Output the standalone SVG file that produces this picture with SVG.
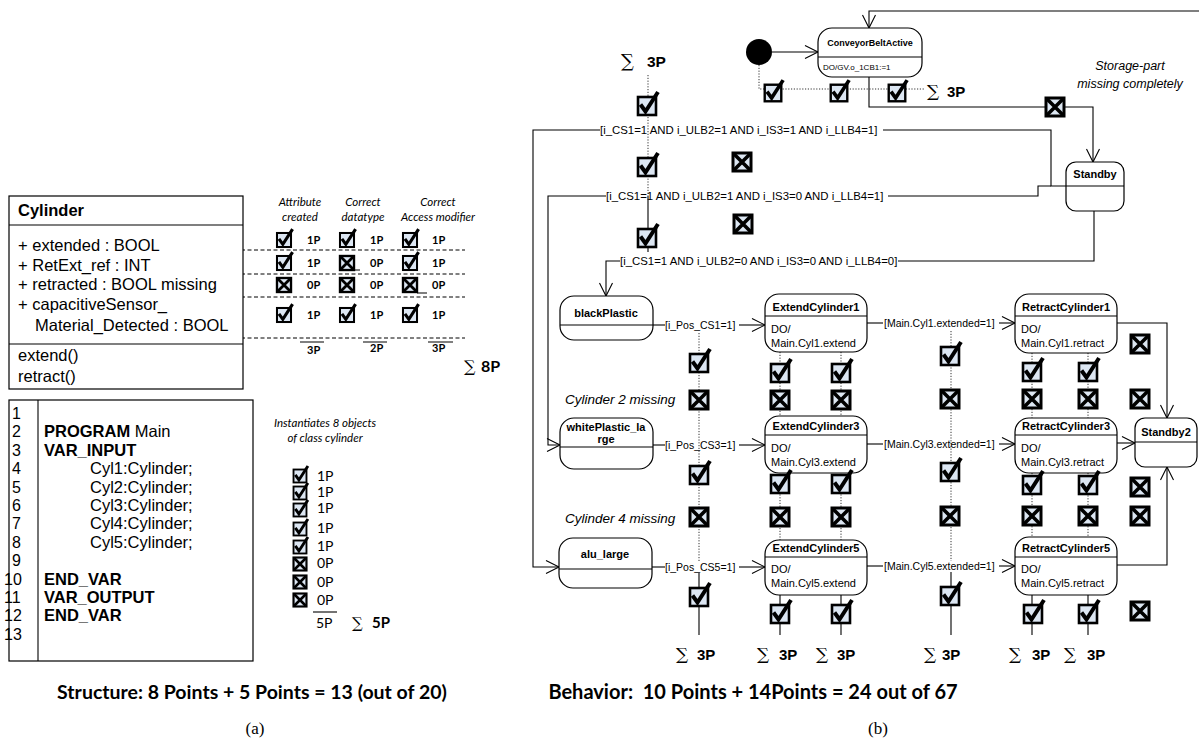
<svg xmlns="http://www.w3.org/2000/svg" width="1199" height="739" viewBox="0 0 1199 739">
<defs>
<style>
.t{font-family:"Liberation Sans",Arial,sans-serif;fill:#000}
.c{font-family:Lato,"Liberation Sans",sans-serif;fill:#000}
.sig{font-family:"DejaVu Serif","Liberation Serif",serif;fill:#000}
.ln{fill:none;stroke:#000;stroke-width:1.1}
.dot{fill:none;stroke:#333;stroke-width:1;stroke-dasharray:1.2 1.6}
.dash{fill:none;stroke:#000;stroke-width:1;stroke-dasharray:4 2.5}
.box{fill:#fff;stroke:#000;stroke-width:1.2}
.sx{font-family:"Liberation Sans",Arial,sans-serif;font-size:11px;font-weight:bold;text-anchor:middle}
.sd{font-family:"Liberation Sans",Arial,sans-serif;font-size:11px}
.tr{font-family:"Liberation Sans",Arial,sans-serif;font-size:10.5px}
.tl{font-family:"Liberation Sans",Arial,sans-serif;font-size:11.4px}
.big{font-family:"Liberation Sans",Arial,sans-serif;font-size:16.5px}
</style>
<marker id="ah" markerUnits="userSpaceOnUse" markerWidth="16" markerHeight="16" refX="13" refY="7.5" orient="auto" overflow="visible"><path d="M0,1 L13,7.5 L0,14" fill="none" stroke="#000" stroke-width="1.1"/></marker>
<g id="ck"><rect x="-9" y="-9" width="18" height="18" fill="#dce6f2" stroke="#000" stroke-width="2.6"/><path d="M-6.5,-1.5 L-1.5,5.5 L11,-14" fill="none" stroke="#000" stroke-width="4"/></g>
<g id="xx"><rect x="-9" y="-9" width="18" height="18" fill="#dce6f2" stroke="#000" stroke-width="3"/><path d="M-8,-8 L8,8 M8,-8 L-8,8" stroke="#000" stroke-width="3.6"/></g>
</defs>
<rect width="1199" height="739" fill="#fff"/>

<g id="connectors">
 <path class="dash" d="M163,250 H465 M163,274 H465 M163,297 H465 M163,338 H465"/>
 <path class="ln" d="M772,52 H818" marker-end="url(#ah)"/>
 <path class="ln" d="M1199,11 H869 V28" marker-end="url(#ah)"/>
 <path class="ln" d="M869,77 V107 H1093 V162" marker-end="url(#ah)"/>
 <path class="ln" d="M600,130 H533 V567 H559" marker-end="url(#ah)"/>
 <path class="ln" d="M883,130 H1051 V186 H1066"/>
 <path class="ln" d="M606,196 H548 V445 H560" marker-end="url(#ah)"/>
 <path class="ln" d="M888,196 H1038 V186 H1051"/>
 <path class="ln" d="M620,261 H606 V296" marker-end="url(#ah)"/>
 <path class="ln" d="M898,261 H1094 V211"/>
 <path class="ln" d="M653,325 H665"/>
 <path class="ln" d="M739,325 H765" marker-end="url(#ah)"/>
 <path class="ln" d="M867,323 H883"/>
 <path class="ln" d="M999,323 H1015" marker-end="url(#ah)"/>
 <path class="ln" d="M1117,323 H1167 V418" marker-end="url(#ah)"/>
 <path class="ln" d="M653,445 H665"/>
 <path class="ln" d="M739,445 H765" marker-end="url(#ah)"/>
 <path class="ln" d="M867,444 H883"/>
 <path class="ln" d="M999,444 H1015" marker-end="url(#ah)"/>
 <path class="ln" d="M1117,443 H1135" marker-end="url(#ah)"/>
 <path class="ln" d="M652,567 H665"/>
 <path class="ln" d="M739,567 H765" marker-end="url(#ah)"/>
 <path class="ln" d="M867,566 H883"/>
 <path class="ln" d="M999,566 H1015" marker-end="url(#ah)"/>
 <path class="ln" d="M1117,565 H1167 V467" marker-end="url(#ah)"/>
 <path class="dot" d="M648,75 V196 M759,65 V89 H925"/>
 <path class="ln" stroke-width="0.8" d="M648,196 V252"/>
 <path class="dot" d="M699,333 V562 M951,331 V561 M780,352 V416 M780,472 V540 M841,352 V416 M841,472 V540 M1032,353 V418 M1032,473 V537 M1088,353 V418 M1088,473 V537"/>
 <path class="ln" stroke-width="0.8" stroke="#333" d="M699,573 V635 M951,572 V635 M780,595 V635 M841,595 V635 M1032,595 V635 M1088,595 V635"/>
</g>

<g id="class-cylinder">
 <rect x="9" y="196" width="234" height="193" class="box"/>
 <path class="ln" d="M9,225 H243 M9,344 H243"/>
 <text class="t" x="18" y="216" font-size="16.5" font-weight="bold">Cylinder</text>
 <text class="t big" x="18" y="251">+ extended : BOOL</text>
 <text class="t big" x="18" y="271">+ RetExt_ref : INT</text>
 <text class="t big" x="18" y="290">+ retracted : BOOL missing</text>
 <text class="t big" x="18" y="310">+ capacitiveSensor_</text>
 <text class="t big" x="35" y="331">Material_Detected : BOOL</text>
 <text class="t big" x="18" y="361">extend()</text>
 <text class="t big" x="18" y="382">retract()</text>
</g>

<g id="attribute-ratings">
 <g class="c" font-style="italic" font-size="11.5" text-anchor="middle">
  <text x="300" y="206">Attribute</text><text x="300" y="221">created</text>
  <text x="363" y="206">Correct</text><text x="363" y="221">datatype</text>
  <text x="438" y="206">Correct</text><text x="438" y="221">Access modifier</text>
 </g>
 <use href="#ck" transform="translate(284,240) scale(.78)"/>
 <use href="#ck" transform="translate(347,240) scale(.78)"/>
 <use href="#ck" transform="translate(410,240) scale(.78)"/>
 <use href="#ck" transform="translate(284,263) scale(.78)"/>
 <use href="#xx" transform="translate(347,263) scale(.78)"/>
 <use href="#ck" transform="translate(410,263) scale(.78)"/>
 <use href="#xx" transform="translate(284,285) scale(.78)"/>
 <use href="#xx" transform="translate(347,285) scale(.78)"/>
 <use href="#xx" transform="translate(410,285) scale(.78)"/>
 <use href="#ck" transform="translate(284,315) scale(.78)"/>
 <use href="#ck" transform="translate(347,315) scale(.78)"/>
 <use href="#ck" transform="translate(410,315) scale(.78)"/>
 <path class="ln" d="M354,270 H360 M417,293 H427"/>
 <g class="c" font-size="11" font-weight="bold">
  <text x="307" y="244">1P</text><text x="370" y="244">1P</text><text x="432" y="244">1P</text>
  <text x="307" y="267">1P</text><text x="370" y="267">0P</text><text x="432" y="267">1P</text>
  <text x="307" y="289">0P</text><text x="370" y="289">0P</text><text x="432" y="289">0P</text>
  <text x="307" y="319">1P</text><text x="370" y="319">1P</text><text x="432" y="319">1P</text>
  <text x="307" y="354">3P</text><text x="370" y="352">2P</text><text x="432" y="352">3P</text>
 </g>
 <path class="ln" d="M300,342 H324 M363,342 H387 M428,342 H453"/>
 <text class="sig" x="464" y="372" font-size="16">∑</text>
 <text class="c" x="481" y="372" font-size="16" font-weight="bold">8P</text>
</g>

<g id="program-main">
 <rect x="9" y="400" width="244" height="261" class="box"/>
 <path class="ln" d="M38,400 V661"/>
 <g class="t" font-size="16">
  <text x="12" y="419">1</text><text x="12" y="437">2</text><text x="12" y="456">3</text>
  <text x="12" y="474">4</text><text x="12" y="493">5</text><text x="12" y="511">6</text>
  <text x="12" y="529">7</text><text x="12" y="548">8</text><text x="12" y="566">9</text>
  <text x="4" y="585">10</text><text x="4" y="603">11</text><text x="4" y="621">12</text><text x="4" y="640">13</text>
 </g>
 <g class="t" font-size="16.5">
  <text x="44" y="437"><tspan font-weight="bold">PROGRAM</tspan> Main</text>
  <text x="44" y="456" font-weight="bold">VAR_INPUT</text>
  <text x="90" y="474">Cyl1:Cylinder;</text>
  <text x="90" y="493">Cyl2:Cylinder;</text>
  <text x="90" y="511">Cyl3:Cylinder;</text>
  <text x="90" y="529">Cyl4:Cylinder;</text>
  <text x="90" y="548">Cyl5:Cylinder;</text>
  <text x="44" y="585" font-weight="bold">END_VAR</text>
  <text x="44" y="603" font-weight="bold">VAR_OUTPUT</text>
  <text x="44" y="621" font-weight="bold">END_VAR</text>
 </g>
</g>

<g id="instance-ratings">
 <g class="c" font-style="italic" font-size="11.5" text-anchor="middle">
  <text x="325" y="427">Instantiates 8 objects</text>
  <text x="325" y="442">of class cylinder</text>
 </g>
 <use href="#ck" transform="translate(300,476) scale(.72)"/>
 <use href="#ck" transform="translate(300,493) scale(.72)"/>
 <use href="#ck" transform="translate(300,510) scale(.72)"/>
 <use href="#ck" transform="translate(300,529) scale(.72)"/>
 <use href="#ck" transform="translate(300,547) scale(.72)"/>
 <use href="#xx" transform="translate(300,564) scale(.72)"/>
 <use href="#xx" transform="translate(300,582) scale(.72)"/>
 <use href="#xx" transform="translate(300,600) scale(.72)"/>
 <g class="c" font-size="14">
  <text x="317" y="481">1P</text><text x="317" y="497">1P</text><text x="317" y="513">1P</text>
  <text x="317" y="533">1P</text><text x="317" y="551">1P</text><text x="317" y="568">0P</text>
  <text x="317" y="587">0P</text><text x="317" y="605">0P</text>
  <text x="316" y="628">5P</text>
 </g>
 <path class="ln" d="M313,612 H337"/>
 <text class="sig" x="352" y="628" font-size="15">∑</text>
 <text class="c" x="372" y="628" font-size="15" font-weight="bold">5P</text>
</g>

<g id="initial-node"><circle cx="759" cy="52" r="13" fill="#000"/></g>

<g id="state-conveyorbeltactive">
 <rect x="818" y="28" width="104" height="49" rx="14" class="box"/>
 <path class="ln" d="M818,57 H922"/>
 <text class="t" x="870" y="46" font-size="9" font-weight="bold" text-anchor="middle">ConveyorBeltActive</text>
 <text class="t" x="823" y="70" font-size="8">DO/GV.o_1CB1:=1</text>
</g>

<g id="state-standby">
 <rect x="1066" y="162" width="58" height="49" rx="10" class="box"/>
 <path class="ln" d="M1066,186 H1124"/>
 <text class="sx" x="1095" y="178">Standby</text>
</g>

<g id="state-blackplastic">
 <rect x="560" y="296" width="93" height="44" rx="14" class="box"/>
 <path class="ln" d="M560,325 H653"/>
 <text class="sx" x="606" y="317">blackPlastic</text>
</g>
<g id="state-whiteplastic-large">
 <rect x="560" y="418" width="93" height="51" rx="14" class="box"/>
 <path class="ln" d="M560,447 H653"/>
 <text class="sx" x="606" y="431">whitePlastic_la</text>
 <text class="sx" x="606" y="443">rge</text>
</g>
<g id="state-alu-large">
 <rect x="559" y="538" width="93" height="50" rx="14" class="box"/>
 <path class="ln" d="M559,569 H652"/>
 <text class="sx" x="605" y="558">alu_large</text>
</g>

<g id="state-extendcylinder1">
 <rect x="765" y="294" width="102" height="58" rx="14" class="box"/>
 <path class="ln" d="M765,316 H867"/>
 <text class="sx" x="816" y="311">ExtendCylinder1</text>
 <text class="sd" x="771" y="333">DO/</text><text class="sd" x="771" y="347">Main.Cyl1.extend</text>
</g>
<g id="state-retractcylinder1">
 <rect x="1015" y="294" width="102" height="59" rx="14" class="box"/>
 <path class="ln" d="M1015,316 H1117"/>
 <text class="sx" x="1066" y="311">RetractCylinder1</text>
 <text class="sd" x="1021" y="333">DO/</text><text class="sd" x="1021" y="347">Main.Cyl1.retract</text>
</g>
<g id="state-extendcylinder3">
 <rect x="765" y="416" width="102" height="57" rx="14" class="box"/>
 <path class="ln" d="M765,435 H867"/>
 <text class="sx" x="816" y="430">ExtendCylinder3</text>
 <text class="sd" x="771" y="452">DO/</text><text class="sd" x="771" y="466">Main.Cyl3.extend</text>
</g>
<g id="state-retractcylinder3">
 <rect x="1015" y="418" width="102" height="55" rx="14" class="box"/>
 <path class="ln" d="M1015,435 H1117"/>
 <text class="sx" x="1066" y="430">RetractCylinder3</text>
 <text class="sd" x="1021" y="452">DO/</text><text class="sd" x="1021" y="466">Main.Cyl3.retract</text>
</g>
<g id="state-standby2">
 <rect x="1135" y="418" width="62" height="49" rx="10" class="box"/>
 <path class="ln" d="M1135,442 H1197"/>
 <text class="sx" x="1166" y="436">Standby2</text>
</g>
<g id="state-extendcylinder5">
 <rect x="765" y="540" width="102" height="55" rx="14" class="box"/>
 <path class="ln" d="M765,557 H867"/>
 <text class="sx" x="816" y="552">ExtendCylinder5</text>
 <text class="sd" x="771" y="573">DO/</text><text class="sd" x="771" y="587">Main.Cyl5.extend</text>
</g>
<g id="state-retractcylinder5">
 <rect x="1015" y="537" width="102" height="58" rx="14" class="box"/>
 <path class="ln" d="M1015,557 H1117"/>
 <text class="sx" x="1066" y="552">RetractCylinder5</text>
 <text class="sd" x="1021" y="573">DO/</text><text class="sd" x="1021" y="587">Main.Cyl5.retract</text>
</g>

<g id="transition-labels">
 <text class="tl" x="600" y="134">[i_CS1=1 AND i_ULB2=1 AND i_IS3=1 AND i_LLB4=1]</text>
 <text class="tl" x="606" y="200">[i_CS1=1 AND i_ULB2=1 AND i_IS3=0 AND i_LLB4=1]</text>
 <text class="tl" x="620" y="265">[i_CS1=1 AND i_ULB2=0 AND i_IS3=0 AND i_LLB4=0]</text>
 <text class="tr" x="665" y="329">[i_Pos_CS1=1]</text>
 <text class="tr" x="665" y="449">[i_Pos_CS3=1]</text>
 <text class="tr" x="665" y="571">[i_Pos_CS5=1]</text>
 <text class="tr" x="884" y="327">[Main.Cyl1.extended=1]</text>
 <text class="tr" x="884" y="448">[Main.Cyl3.extended=1]</text>
 <text class="tr" x="884" y="570">[Main.Cyl5.extended=1]</text>
</g>

<g id="behavior-ratings">
 <text class="sig" x="621" y="67" font-size="18">∑</text><text class="t" x="647" y="67" font-size="15.5" font-weight="bold">3P</text>
 <text class="sig" x="927" y="97" font-size="17">∑</text><text class="t" x="947" y="97" font-size="15" font-weight="bold">3P</text>
 <g class="t" font-style="italic" font-size="12.5" text-anchor="middle">
  <text x="1130" y="70">Storage-part</text><text x="1130" y="88">missing completely</text>
 </g>
 <g class="t" font-style="italic" font-size="13.5">
  <text x="565" y="404">Cylinder 2 missing</text>
  <text x="565" y="523">Cylinder 4 missing</text>
 </g>
 <use href="#ck" x="647" y="106"/>
 <use href="#ck" transform="translate(773,93) scale(.92)"/>
 <use href="#ck" transform="translate(839,93) scale(.92)"/>
 <use href="#ck" transform="translate(897,93) scale(.92)"/>
 <use href="#xx" x="1055" y="107"/>
 <use href="#ck" x="647" y="167"/>
 <use href="#xx" x="742" y="162"/>
 <use href="#xx" x="743" y="224"/>
 <use href="#ck" x="647" y="238"/>
 <use href="#ck" x="699" y="363"/><use href="#ck" x="950" y="356"/>
 <use href="#ck" x="780" y="373"/><use href="#ck" x="841" y="373"/>
 <use href="#ck" x="1032" y="372"/><use href="#ck" x="1088" y="372"/>
 <use href="#xx" x="1140" y="344"/>
 <use href="#xx" x="699" y="400"/><use href="#xx" x="780" y="400"/><use href="#xx" x="841" y="400"/>
 <use href="#xx" x="950" y="399"/><use href="#xx" x="1032" y="399"/><use href="#xx" x="1088" y="399"/><use href="#xx" x="1140" y="399"/>
 <use href="#ck" x="699" y="475"/><use href="#ck" x="950" y="472"/>
 <use href="#ck" x="780" y="484"/><use href="#ck" x="841" y="484"/>
 <use href="#ck" x="1032" y="485"/><use href="#ck" x="1088" y="485"/>
 <use href="#xx" x="1140" y="487"/>
 <use href="#xx" x="699" y="517"/><use href="#xx" x="780" y="517"/><use href="#xx" x="841" y="517"/>
 <use href="#xx" x="950" y="516"/><use href="#xx" x="1032" y="516"/><use href="#xx" x="1088" y="516"/><use href="#xx" x="1140" y="516"/>
 <use href="#ck" x="699" y="597"/><use href="#ck" x="950" y="596"/>
 <use href="#ck" x="780" y="614"/><use href="#ck" x="841" y="614"/>
 <use href="#ck" x="1033" y="614"/><use href="#ck" x="1088" y="614"/>
 <use href="#xx" x="1140" y="611"/>
 <g font-size="17">
  <text class="sig" x="676" y="660">∑</text><text class="sig" x="757" y="660">∑</text><text class="sig" x="816" y="660">∑</text>
  <text class="sig" x="924" y="660">∑</text><text class="sig" x="1009" y="660">∑</text><text class="sig" x="1064" y="660">∑</text>
 </g>
 <g class="t" font-size="15" font-weight="bold">
  <text x="697" y="660">3P</text><text x="779" y="660">3P</text><text x="837" y="660">3P</text>
  <text x="942" y="660">3P</text><text x="1032" y="660">3P</text><text x="1087" y="660">3P</text>
 </g>
</g>

<g id="captions">
 <text class="c" x="252" y="699" font-size="19.5" font-weight="bold" text-anchor="middle">Structure: 8 Points + 5 Points = 13 (out of 20)</text>
 <text class="c" x="753" y="699" font-size="20" font-weight="bold" text-anchor="middle" xml:space="preserve">Behavior:  10 Points + 14Points = 24 out of 67</text>
 <text x="255" y="734" font-family="Liberation Serif,serif" font-size="17" text-anchor="middle">(a)</text>
 <text x="878" y="734" font-family="Liberation Serif,serif" font-size="17" text-anchor="middle">(b)</text>
</g>
</svg>
